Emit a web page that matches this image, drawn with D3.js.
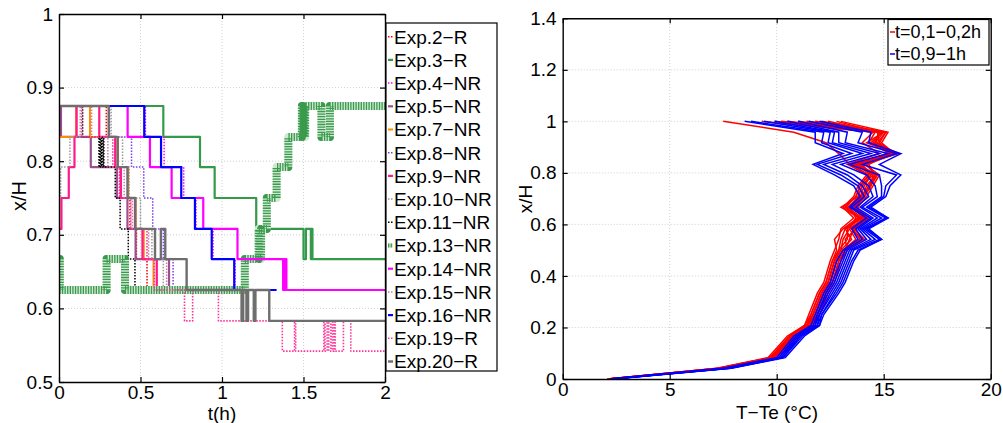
<!DOCTYPE html>
<html><head><meta charset="utf-8">
<script src="https://cdn.jsdelivr.net/npm/d3@7"></script>
<style>
body{margin:0;background:#fff;}
text{font-family:"Liberation Sans",Arial,Helvetica,sans-serif;fill:#000;}
</style>
</head><body>
<svg id="c" width="1003" height="423"></svg>
<script>
// ---------------- DATA (left chart: step series [t(h), x/H]) ----------------
const exp2  = [[0,0.875],[0.29,0.833],[0.345,0.792],[0.375,0.75],[0.435,0.708],[0.475,0.667],[0.54,0.625],[0.78,0.625]];
const exp3  = [[0,0.875],[0.64,0.833],[0.865,0.792],[0.955,0.75],[1.21,0.708],[1.50,0.667],[1.515,0.708],[1.545,0.667],[1.55,0.708],[1.555,0.667],[2,0.667]];
const exp4  = [[0,0.875],[0.53,0.833],[0.645,0.792],[0.765,0.75],[0.84,0.708],[0.945,0.667],[1.08,0.625],[1.3,0.625]];
const exp5  = [[0,0.875],[0.012,0.833],[0.195,0.792],[0.355,0.75],[0.42,0.708],[0.47,0.667],[0.675,0.625],[0.75,0.625]];
const exp7  = [[0,0.833],[0.105,0.875],[0.19,0.833],[0.36,0.792],[0.425,0.75],[0.47,0.708],[0.52,0.667],[0.58,0.625],[0.65,0.625]];
const exp8  = [[0,0.875],[0.31,0.833],[0.445,0.792],[0.52,0.75],[0.575,0.708],[0.64,0.667],[0.70,0.625],[0.78,0.625]];
const exp9  = [[0,0.708],[0.015,0.75],[0.06,0.792],[0.095,0.833],[0.108,0.875],[0.247,0.833],[0.345,0.792],[0.38,0.75],[0.466,0.708],[0.512,0.667],[0.6,0.625],[0.775,0.625]];
const exp10 = [[0,0.75],[0.01,0.792],[0.067,0.833],[0.13,0.875],[0.32,0.833],[0.39,0.792],[0.43,0.75],[0.5,0.708],[0.57,0.667],[0.64,0.625],[0.8,0.625]];
const exp11 = [[0,0.875],[0.145,0.833],[0.245,0.792],[0.25,0.833],[0.255,0.792],[0.26,0.833],[0.265,0.792],[0.27,0.833],[0.275,0.792],[0.345,0.75],[0.375,0.708],[0.425,0.667],[0.466,0.625],[0.7,0.625]];
const exp13 = [[0,0.667],[0.005,0.625],[0.292,0.667],[0.405,0.625],[1.14,0.667],[1.225,0.708],[1.232,0.667],[1.24,0.708],[1.275,0.75],[1.335,0.792],[1.407,0.833],[1.49,0.875],[1.495,0.833],[1.50,0.875],[1.505,0.833],[1.51,0.875],[1.61,0.833],[1.662,0.875],[2,0.875]];
const exp14 = [[0,0.875],[0.421,0.833],[0.558,0.792],[0.691,0.75],[0.885,0.708],[1.095,0.667],[1.375,0.625],[1.385,0.667],[1.395,0.625],[2,0.625]];
const exp15 = [[0,0.875],[0.2,0.833],[0.3,0.792],[0.4,0.75],[0.45,0.708],[0.55,0.667],[0.66,0.625],[0.8,0.625]];
const exp16 = [[0,0.875],[0.523,0.833],[0.626,0.792],[0.75,0.75],[0.834,0.708],[0.937,0.667],[1.075,0.625],[1.335,0.625]];
const exp19 = [[0,0.875],[0.14,0.833],[0.33,0.792],[0.37,0.75],[0.44,0.708],[0.54,0.667],[0.585,0.625],[0.77,0.583],[0.82,0.625],[0.978,0.583],[1.37,0.542],[1.445,0.583],[1.452,0.542],[1.625,0.583],[1.632,0.542],[1.645,0.583],[1.655,0.542],[1.668,0.583],[1.678,0.542],[1.688,0.583],[1.695,0.542],[1.745,0.583],[1.79,0.542],[2,0.542]];
const exp20 = [[0,0.875],[0.305,0.833],[0.36,0.792],[0.42,0.75],[0.468,0.708],[0.589,0.667],[0.625,0.708],[0.652,0.667],[0.783,0.625],[1.12,0.583],[1.13,0.625],[1.15,0.583],[1.16,0.625],[1.195,0.583],[1.205,0.625],[1.29,0.583],[2,0.583]];

const seriesNames = ["Exp.2\u2212R","Exp.3\u2212R","Exp.4\u2212NR","Exp.5\u2212NR","Exp.7\u2212NR","Exp.8\u2212NR","Exp.9\u2212NR","Exp.10\u2212NR","Exp.11\u2212NR","Exp.13\u2212NR","Exp.14\u2212NR","Exp.15\u2212NR","Exp.16\u2212NR","Exp.19\u2212R","Exp.20\u2212R"];
const seriesData = [exp2,exp3,exp4,exp5,exp7,exp8,exp9,exp10,exp11,exp13,exp14,exp15,exp16,exp19,exp20];

const leftXTicks = [0,0.5,1,1.5,2];
const leftYTicks = [0.5,0.6,0.7,0.8,0.9,1];

// ---------------- DATA (right chart: temperature profiles) ----------------
const profileLevels = [0,0.042,0.083,0.167,0.208,0.25,0.333,0.375,0.458,0.5,0.542,0.583,0.625,0.667,0.708,0.75,0.792,0.833,0.875,0.917,0.958,1];
const redProfiles = [
 [2.1,7.2,9.6,10.5,11.3,11.5,11.9,12.2,12.5,12.7,12.9,13.0,13.6,13.1,13.6,13.8,14.2,13.4,12.9,12.3,10.8,7.5],
 [2.1,7.3,9.7,10.6,11.3,11.6,12.0,12.3,12.6,12.8,12.7,13.1,13.8,13.2,13.7,13.9,14.3,13.5,15.3,14.3,14.6,9.3],
 [2.1,7.3,9.7,10.6,11.4,11.6,12.0,12.3,12.6,12.9,13.3,13.3,13.9,13.0,13.8,14.0,14.5,13.8,15.5,14.5,14.9,10.5],
 [2.1,7.4,9.8,10.7,11.5,11.7,12.1,12.4,12.7,13.0,13.5,13.2,14.0,13.3,13.9,14.1,14.4,14.0,15.6,14.2,15.0,11.0],
 [2.2,7.4,9.8,10.8,11.5,11.8,12.2,12.5,12.8,13.1,13.7,13.4,14.1,13.5,14.0,14.2,14.6,14.3,15.4,14.7,15.1,11.8],
 [2.2,7.5,9.9,10.8,11.6,11.8,12.2,12.5,12.8,13.1,14.0,13.5,14.2,13.6,14.1,14.3,14.7,13.6,15.2,14.8,14.7,12.4],
 [2.2,7.5,9.9,10.9,11.6,11.9,12.3,12.6,12.9,13.2,14.1,13.6,14.3,13.7,13.9,14.4,14.5,13.9,15.7,14.6,14.8,12.8],
 [2.2,7.6,10.0,10.9,11.7,12.0,12.4,12.7,13.0,13.3,13.2,13.7,14.0,13.8,14.2,14.5,14.8,14.1,15.5,14.9,15.2,13.0],
 [2.1,7.3,9.7,10.7,11.4,11.7,12.1,12.4,12.7,13.0,13.1,13.4,13.7,13.4,13.8,14.0,14.4,13.7,15.4,14.4,14.9,10.2],
 [2.2,7.4,9.8,10.8,11.5,11.8,12.2,12.5,12.8,13.1,13.9,13.5,14.1,13.5,14.0,14.3,14.6,14.2,15.6,14.6,15.0,11.4],
 [2.2,7.5,9.9,10.9,11.6,11.9,12.3,12.6,12.9,13.2,13.4,13.6,14.2,13.7,14.1,14.4,14.7,13.8,15.5,14.8,15.1,12.1],
 [2.2,7.4,9.8,10.7,11.4,11.7,12.1,12.4,12.7,12.9,13.0,13.2,13.9,13.2,13.7,13.9,14.3,13.3,14.8,14.0,14.5,9.9]
];
const blueProfiles = [
 [2.2,7.5,10.0,10.8,11.6,11.8,12.2,12.5,12.8,13.1,13.8,13.5,14.2,13.4,13.9,13.6,12.7,11.7,13.1,11.8,11.8,8.5],
 [2.2,7.6,10.1,10.9,11.7,11.9,12.3,12.6,13.0,13.2,14.0,13.7,14.4,13.5,14.1,13.8,13.0,11.9,13.5,12.1,12.2,8.8],
 [2.2,7.6,10.1,11.0,11.8,11.9,12.4,12.7,13.1,13.3,14.2,13.8,14.5,13.7,14.3,14.0,13.3,12.2,14.0,12.4,12.5,9.4],
 [2.3,7.7,10.2,11.0,11.8,12.0,12.5,12.8,13.2,13.4,14.4,13.9,14.7,13.9,14.5,14.3,13.6,12.6,14.4,12.6,12.7,9.9],
 [2.3,7.7,10.2,11.1,11.9,12.0,12.6,12.9,13.3,13.5,14.6,14.0,14.9,14.0,14.7,14.6,14.2,13.0,14.8,12.9,12.9,10.5],
 [2.3,7.8,10.3,11.1,11.9,12.1,12.7,13.0,13.4,13.6,14.8,14.1,15.1,14.2,14.9,14.9,14.8,13.4,15.2,13.2,13.3,11.0],
 [2.3,7.8,10.3,11.2,12.0,12.1,12.8,13.1,13.5,13.8,14.9,14.2,15.2,14.3,15.0,15.1,15.6,14.0,15.6,13.8,14.0,11.5],
 [2.4,7.9,10.4,11.3,12.0,12.2,12.9,13.2,13.6,13.9,14.9,14.3,15.2,14.4,15.1,15.3,15.8,14.8,15.8,14.3,14.4,12.0]
];
const profileLegend = ["t=0,1\u22120,2h","t=0,9\u22121h"];
const rightXTicks = [0,5,10,15,20];
const rightYTicks = [0,0.2,0.4,0.6,0.8,1,1.2,1.4];

// ---------------- STYLES ----------------
const seriesStyles = [
 {c:"#ff0000", w:1.5, d:"1.5,1.5"},
 {c:"#35994a", w:2.2, d:null},
 {c:"#ff00ff", w:1.5, d:"1.5,1.5"},
 {c:"#9b4f8e", w:2.2, d:null},
 {c:"#ff8c00", w:2.0, d:null},
 {c:"#7a3cf0", w:1.5, d:"1.5,1.5"},
 {c:"#ff1a8c", w:2.2, d:null},
 {c:"#9a9a9a", w:1.5, d:"1.5,1.5"},
 {c:"#000000", w:1.5, d:"1.5,1.5"},
 {c:"#3a9a4c", w:8, d:"1.3,1.3", under:"#cfe8d3"},
 {c:"#ff00ff", w:2.2, d:null},
 {c:"#c87db0", w:1.5, d:"1.5,1.5"},
 {c:"#0000ff", w:2.2, d:null},
 {c:"#ff3399", w:1.6, d:"1.5,1.5"},
 {c:"#6e6e6e", w:2.4, d:null}
];

const svg = d3.select("#c");
const FONT_TICK = 19;

function drawFrame(g, x, y, xt, yt, gridColor){
  const [x0,x1] = x.range(), [y0,y1] = y.range();
  g.append("g").selectAll("line").data(xt.slice(1,-1)).join("line")
    .attr("x1",d=>x(d)).attr("x2",d=>x(d)).attr("y1",y0).attr("y2",y1)
    .attr("stroke",gridColor).attr("stroke-width",0.8).attr("stroke-dasharray","1,2");
  g.append("g").selectAll("line").data(yt.slice(1,-1)).join("line")
    .attr("y1",d=>y(d)).attr("y2",d=>y(d)).attr("x1",x0).attr("x2",x1)
    .attr("stroke",gridColor).attr("stroke-width",0.8).attr("stroke-dasharray","1,2");
}
function drawAxes(g, x, y, xt, yt, xPad, yPad){
  const [x0,x1] = x.range(), [y0,y1] = y.range();
  const bx = g.append("g").attr("transform",`translate(0,${y0})`)
    .call(d3.axisBottom(x).tickValues(xt).tickSizeInner(-5).tickSizeOuter(0).tickPadding(xPad).tickFormat(d3.format("")));
  const ly = g.append("g").attr("transform",`translate(${x0},0)`)
    .call(d3.axisLeft(y).tickValues(yt).tickSizeInner(-5).tickSizeOuter(0).tickPadding(yPad).tickFormat(d3.format("")));
  const tx = g.append("g").attr("transform",`translate(0,${y1})`)
    .call(d3.axisTop(x).tickValues(xt).tickSizeInner(-5).tickSizeOuter(0).tickFormat(""));
  const ry = g.append("g").attr("transform",`translate(${x1},0)`)
    .call(d3.axisRight(y).tickValues(yt).tickSizeInner(-5).tickSizeOuter(0).tickFormat(""));
  [bx,ly,tx,ry].forEach(a=>{
    a.selectAll("path").attr("stroke","#000").attr("stroke-width",1.4);
    a.selectAll("line").attr("stroke","#000").attr("stroke-width",1.2);
    a.selectAll("text").attr("font-size",FONT_TICK).attr("font-family","Liberation Sans, Arial, sans-serif").attr("fill","#000");
  });
}

// ================= LEFT CHART =================
const xL = d3.scaleLinear([0,2],[59,385]);
const yL = d3.scaleLinear([0.5,1],[382,14]);
const gL = svg.append("g");
drawFrame(gL, xL, yL, leftXTicks, leftYTicks, "#c4c4c4");
svg.append("clipPath").attr("id","clipL").append("rect").attr("x",59).attr("y",14).attr("width",326).attr("height",368);
const stepLine = d3.line().x(d=>xL(d[0])).y(d=>yL(d[1])).curve(d3.curveStepAfter);
const linesL = gL.append("g").attr("clip-path","url(#clipL)");
seriesData.forEach((s,i)=>{
  const st = seriesStyles[i];
  if(st.under){
    linesL.append("path").attr("d",stepLine(s)).attr("fill","none").attr("stroke",st.under)
      .attr("stroke-width",st.w).attr("stroke-linejoin","round").attr("stroke-linecap","round");
  }
  linesL.append("path").attr("d",stepLine(s)).attr("fill","none").attr("stroke",st.c)
    .attr("stroke-width",st.w).attr("stroke-dasharray",st.d).attr("stroke-linejoin","round");
});
drawAxes(gL, xL, yL, leftXTicks, leftYTicks, 3, 6);
gL.append("text").attr("x",222).attr("y",420).attr("text-anchor","middle").attr("font-size",19).text("t(h)");
gL.append("text").attr("transform","translate(26,196) rotate(-90)").attr("text-anchor","middle").attr("font-size",20).text("x/H");

// left legend
const legL = svg.append("g");
legL.append("rect").attr("x",386).attr("y",23).attr("width",111).attr("height",348).attr("fill","#fff").attr("stroke","#000").attr("stroke-width",1.2);
seriesNames.forEach((n,i)=>{
  const yy = 36.7 + i*23.2;
  const st = seriesStyles[i];
  if(st.under){
    legL.append("line").attr("x1",388).attr("x2",393).attr("y1",yy).attr("y2",yy).attr("stroke",st.under).attr("stroke-width",4);
  }
  legL.append("line").attr("x1",388).attr("x2",393).attr("y1",yy).attr("y2",yy)
    .attr("stroke",st.c).attr("stroke-width",Math.min(st.w,4)).attr("stroke-dasharray",st.d);
  legL.append("text").attr("x",394).attr("y",yy).attr("dy","0.36em").attr("font-size",19).text(n);
});

// ================= RIGHT CHART =================
const xR = d3.scaleLinear([0,20],[562.7,990.7]);
const yR = d3.scaleLinear([0,1.4],[379,18.3]);
const gR = svg.append("g");
drawFrame(gR, xR, yR, rightXTicks, rightYTicks, "#c4c4c4");
svg.append("clipPath").attr("id","clipR").append("rect").attr("x",562.7).attr("y",18.3).attr("width",428).attr("height",360.7);
const profLine = d3.line().x(d=>xR(d[0])).y(d=>yR(d[1]));
const linesR = gR.append("g").attr("clip-path","url(#clipR)");
redProfiles.forEach(p=>{
  linesR.append("path").attr("d",profLine(p.map((v,k)=>[v,profileLevels[k]])))
    .attr("fill","none").attr("stroke","#ff0000").attr("stroke-width",1.5);
});
blueProfiles.forEach(p=>{
  linesR.append("path").attr("d",profLine(p.map((v,k)=>[v,profileLevels[k]])))
    .attr("fill","none").attr("stroke","#0000ff").attr("stroke-width",1.5);
});
drawAxes(gR, xR, yR, rightXTicks, rightYTicks, 4, 6);
gR.append("text").attr("x",777).attr("y",419).attr("text-anchor","middle").attr("font-size",19).text("T\u2212Te (\u00B0C)");
gR.append("text").attr("transform","translate(532,199) rotate(-90)").attr("text-anchor","middle").attr("font-size",19).text("x/H");

// right legend
const legR = svg.append("g");
legR.append("rect").attr("x",888).attr("y",19.5).attr("width",101).attr("height",45.5).attr("fill","#fff").attr("stroke","#000").attr("stroke-width",1.2);
const legRColors = ["#ff0000","#0000ff"];
profileLegend.forEach((n,i)=>{
  const yy = 32 + i*22;
  legR.append("line").attr("x1",890).attr("x2",895).attr("y1",yy).attr("y2",yy).attr("stroke",legRColors[i]).attr("stroke-width",1.5);
  legR.append("text").attr("x",895).attr("y",yy).attr("dy","0.36em").attr("font-size",18).text(n);
});
</script>
</body></html>
